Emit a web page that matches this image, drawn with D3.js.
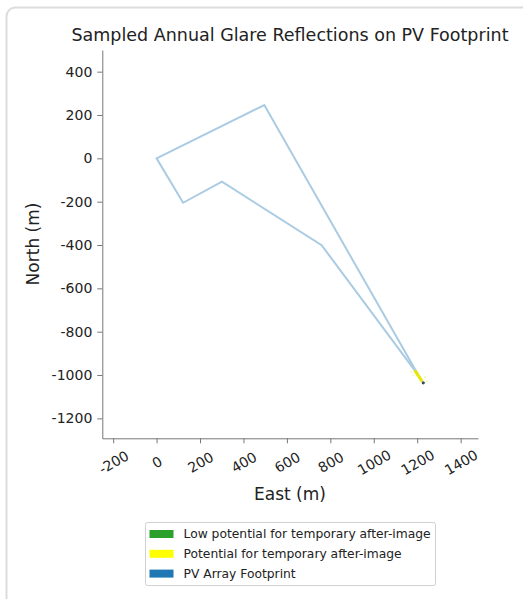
<!DOCTYPE html>
<html>
<head>
<meta charset="utf-8">
<script src="https://cdn.jsdelivr.net/npm/d3@7"></script>
<style>
  body { margin: 0; background: #fff; }
  text { font-family: "DejaVu Sans", sans-serif; fill: #222; }
</style>
</head>
<body>
<svg id="chart"></svg>
<script>
// PV footprint outline (East, North in metres)
const footprint = [[0, 0], [496, 246], [1205, -1000], [760, -401], [301, -108], [122, -205]];
// glare reflection samples - potential for temporary after-image
const glareYellow = [[1192, -983], [1196, -989], [1200, -995], [1204, -1001], [1208, -1007],
                     [1212, -1013], [1216, -1019], [1220, -1025], [1182, -1002], [1236, -1010], [1175, -985], [1245, -1030]];
// small dark footprint marker
const pvMarker = [[1228, -1036]];

const xTicks = [-200, 0, 200, 400, 600, 800, 1000, 1200, 1400];
const yTicks = [400, 200, 0, -200, -400, -600, -800, -1000, -1200];
const legendLabels = ["Low potential for temporary after-image", "Potential for temporary after-image", "PV Array Footprint"];
const legendColors = ["#2ca02c", "#ffff00", "#1f77b4"];

const width = 523, height = 599;
const svg = d3.select("#chart").attr("width", width).attr("height", height);

// card border
svg.append("rect")
    .attr("x", 6.5).attr("y", 7.5)
    .attr("width", 560).attr("height", 640)
    .attr("rx", 9)
    .attr("fill", "none")
    .attr("stroke", "#dcdcdc")
    .attr("stroke-width", 2);

const x = d3.scaleLinear().domain([-250, 1480]).range([102.3, 478]);
const y = d3.scaleLinear().domain([-1292, 500]).range([438.3, 50]);

// title
svg.append("text")
    .attr("x", 290).attr("y", 41)
    .attr("text-anchor", "middle")
    .style("font-size", "17.5px")
    .text("Sampled Annual Glare Reflections on PV Footprint");

// footprint polygon
svg.append("path")
    .datum(footprint)
    .attr("d", d3.line().x(d => x(d[0])).y(d => y(d[1])).curve(d3.curveLinearClosed))
    .attr("fill", "none")
    .attr("stroke", "#1f77b4")
    .attr("stroke-opacity", 0.38)
    .attr("stroke-width", 2);

// glare points
svg.selectAll(".glare")
    .data(glareYellow)
    .enter()
    .append("circle")
    .attr("class", "glare")
    .attr("cx", d => x(d[0]))
    .attr("cy", d => y(d[1]))
    .attr("r", (d, i) => i < 8 ? 1.6 : 1)
    .attr("fill", "#e6e600")
    .attr("fill-opacity", (d, i) => i < 8 ? 0.9 : 0.3);

svg.selectAll(".pv")
    .data(pvMarker)
    .enter()
    .append("circle")
    .attr("class", "pv")
    .attr("cx", d => x(d[0]))
    .attr("cy", d => y(d[1]))
    .attr("r", 1.6)
    .attr("fill", "#3a4a5a");

// axes
const fmt = d => String(d);
const xAxis = svg.append("g")
    .attr("transform", `translate(0, ${y.range()[0]})`)
    .call(d3.axisBottom(x).tickValues(xTicks).tickFormat(fmt).tickSize(5).tickPadding(3).tickSizeOuter(0));
xAxis.selectAll("text")
    .style("font-size", "14px")
    .attr("text-anchor", "middle")
    .attr("dy", null)
    .attr("y", 0)
    .attr("dominant-baseline", "central")
    .attr("transform", "translate(0, 24) rotate(-30)");

const yAxis = svg.append("g")
    .attr("transform", `translate(${x.range()[0]}, 0)`)
    .call(d3.axisLeft(y).tickValues(yTicks).tickFormat(fmt).tickSize(5).tickPadding(5).tickSizeOuter(0));
yAxis.selectAll("text").style("font-size", "14px");

svg.selectAll(".domain, .tick line").attr("stroke", "#777");
svg.selectAll(".tick text").style("fill", "#222");

// axis labels
svg.append("text")
    .attr("x", 290).attr("y", 500)
    .attr("text-anchor", "middle")
    .style("font-size", "17px")
    .text("East (m)");

svg.append("text")
    .attr("transform", "translate(39, 244) rotate(-90)")
    .attr("text-anchor", "middle")
    .style("font-size", "17px")
    .text("North (m)");

// legend
const legend = svg.append("g").attr("transform", "translate(145.5, 522.5)");
legend.append("rect")
    .attr("width", 290).attr("height", 63)
    .attr("rx", 2)
    .attr("fill", "#fff")
    .attr("stroke", "#d0d0d0");

const rows = legend.selectAll(".row")
    .data(legendLabels)
    .enter()
    .append("g")
    .attr("transform", (d, i) => `translate(0, ${11.5 + i * 19.8})`);
rows.append("rect")
    .attr("x", 4).attr("y", -4)
    .attr("width", 24).attr("height", 8)
    .attr("fill", (d, i) => legendColors[i]);
rows.append("text")
    .attr("x", 38)
    .attr("dy", "0.35em")
    .style("font-size", "12.3px")
    .text(d => d);
</script>
</body>
</html>
